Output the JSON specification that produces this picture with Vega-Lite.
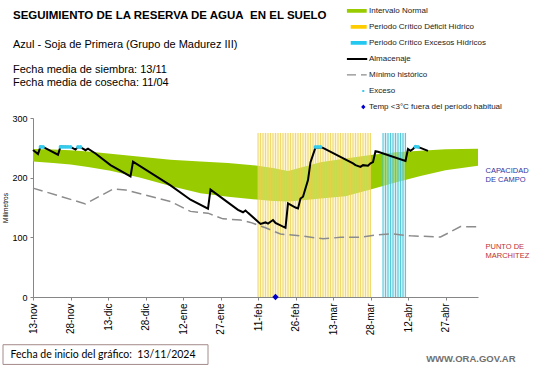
{
  "$schema": "https://vega.github.io/schema/vega-lite/v6.json",
  "autosize": {"type": "none"},
  "width": 445,
  "height": 179,
  "padding": {"left": 33, "top": 118, "right": 63, "bottom": 71},
  "background": "white",
  "title": {
    "text": "SEGUIMIENTO DE LA RESERVA DE AGUA\u00a0 EN EL SUELO",
    "subtitle": ["Azul - Soja de Primera (Grupo de Madurez III)", "\u200b", "Fecha media de siembra: 13/11", "Fecha media de cosecha: 11/04"],
    "anchor": "start",
    "frame": "group",
    "dx": -20,
    "offset": -85,
    "font": "Liberation Sans",
    "fontSize": 11.5,
    "fontWeight": "bold",
    "color": "#000000",
    "subtitleFont": "Liberation Sans",
    "subtitleFontSize": 11,
    "subtitleColor": "#000000",
    "subtitleLineHeight": 12.7,
    "subtitlePadding": 17
  },
  "datasets": {
    "band": [
      {"d": "2024-11-13", "hi": 248, "lo": 227},
      {"d": "2024-11-21", "hi": 247, "lo": 224.5},
      {"d": "2024-11-28", "hi": 246, "lo": 222},
      {"d": "2024-12-05", "hi": 244, "lo": 218},
      {"d": "2024-12-14", "hi": 240, "lo": 211.5},
      {"d": "2024-12-26", "hi": 235, "lo": 200},
      {"d": "2025-01-07", "hi": 230, "lo": 186},
      {"d": "2025-01-19", "hi": 227, "lo": 174},
      {"d": "2025-01-30", "hi": 224.5, "lo": 168},
      {"d": "2025-02-09", "hi": 221, "lo": 164},
      {"d": "2025-02-17", "hi": 216, "lo": 161},
      {"d": "2025-02-23", "hi": 211, "lo": 160},
      {"d": "2025-03-01", "hi": 218, "lo": 162},
      {"d": "2025-03-08", "hi": 226, "lo": 165},
      {"d": "2025-03-18", "hi": 232, "lo": 169},
      {"d": "2025-03-28", "hi": 238, "lo": 180},
      {"d": "2025-04-07", "hi": 242.5, "lo": 192},
      {"d": "2025-04-17", "hi": 245, "lo": 203},
      {"d": "2025-04-27", "hi": 247.5, "lo": 212.5},
      {"d": "2025-05-10", "hi": 248.5, "lo": 220}
    ],
    "alm": [
      {"d": "2024-11-13", "v": 246.5},
      {"d": "2024-11-15", "v": 239.5},
      {"d": "2024-11-16", "v": 252},
      {"d": "2024-11-17", "v": 251.5},
      {"d": "2024-11-23", "v": 238.5},
      {"d": "2024-11-24", "v": 252},
      {"d": "2024-11-28", "v": 251.5},
      {"d": "2024-11-30", "v": 247},
      {"d": "2024-12-01", "v": 251.5},
      {"d": "2024-12-02", "v": 251},
      {"d": "2024-12-04", "v": 246},
      {"d": "2024-12-05", "v": 248.5},
      {"d": "2024-12-08", "v": 240.5},
      {"d": "2024-12-14", "v": 221},
      {"d": "2024-12-22", "v": 202},
      {"d": "2024-12-23", "v": 227},
      {"d": "2025-01-07", "v": 187},
      {"d": "2025-01-15", "v": 163},
      {"d": "2025-01-22", "v": 148},
      {"d": "2025-01-23", "v": 180},
      {"d": "2025-02-03", "v": 146},
      {"d": "2025-02-05", "v": 142},
      {"d": "2025-02-06", "v": 145},
      {"d": "2025-02-07", "v": 141},
      {"d": "2025-02-12", "v": 122.5},
      {"d": "2025-02-14", "v": 125},
      {"d": "2025-02-15", "v": 123},
      {"d": "2025-02-17", "v": 129},
      {"d": "2025-02-18", "v": 124},
      {"d": "2025-02-22", "v": 116},
      {"d": "2025-02-23", "v": 157},
      {"d": "2025-02-26", "v": 150},
      {"d": "2025-02-27", "v": 148.5},
      {"d": "2025-02-28", "v": 165},
      {"d": "2025-03-01", "v": 168},
      {"d": "2025-03-03", "v": 196},
      {"d": "2025-03-04", "v": 226},
      {"d": "2025-03-06", "v": 250.5},
      {"d": "2025-03-08", "v": 251},
      {"d": "2025-03-09", "v": 250},
      {"d": "2025-03-21", "v": 224},
      {"d": "2025-03-22", "v": 221},
      {"d": "2025-03-24", "v": 218},
      {"d": "2025-03-25", "v": 221},
      {"d": "2025-03-27", "v": 220},
      {"d": "2025-03-28", "v": 224},
      {"d": "2025-03-29", "v": 226},
      {"d": "2025-03-30", "v": 244.5},
      {"d": "2025-03-31", "v": 243.5},
      {"d": "2025-04-11", "v": 228},
      {"d": "2025-04-12", "v": 248},
      {"d": "2025-04-13", "v": 245},
      {"d": "2025-04-14", "v": 248},
      {"d": "2025-04-15", "v": 252.5},
      {"d": "2025-04-17", "v": 250},
      {"d": "2025-04-20", "v": 245}
    ],
    "minimo": [
      {"d": "2024-11-13", "v": 182.5},
      {"d": "2024-11-23", "v": 170},
      {"d": "2024-12-04", "v": 156},
      {"d": "2024-12-15", "v": 181},
      {"d": "2024-12-20", "v": 179.5},
      {"d": "2025-01-07", "v": 160},
      {"d": "2025-01-15", "v": 143.5},
      {"d": "2025-01-22", "v": 140.5},
      {"d": "2025-01-28", "v": 131},
      {"d": "2025-02-04", "v": 129},
      {"d": "2025-02-08", "v": 125},
      {"d": "2025-02-14", "v": 116},
      {"d": "2025-02-20", "v": 105.5},
      {"d": "2025-02-28", "v": 102.5},
      {"d": "2025-03-09", "v": 97.5},
      {"d": "2025-03-16", "v": 100},
      {"d": "2025-03-24", "v": 100},
      {"d": "2025-03-30", "v": 104},
      {"d": "2025-04-05", "v": 106},
      {"d": "2025-04-13", "v": 102.5},
      {"d": "2025-04-25", "v": 100.5},
      {"d": "2025-04-28", "v": 107},
      {"d": "2025-05-03", "v": 118},
      {"d": "2025-05-10", "v": 117.5}
    ],
    "exceso": [
      {"d": "2024-11-16", "v": 251.5},
      {"d": "2024-11-17", "v": 251.5},
      {"d": "2024-11-24", "v": 251.5},
      {"d": "2024-11-25", "v": 251.5},
      {"d": "2024-11-26", "v": 251.5},
      {"d": "2024-11-27", "v": 251.5},
      {"d": "2024-11-28", "v": 251.5},
      {"d": "2024-12-01", "v": 251.5},
      {"d": "2024-12-02", "v": 251.5},
      {"d": "2025-03-06", "v": 251.5},
      {"d": "2025-03-07", "v": 251.5},
      {"d": "2025-03-08", "v": 251.5},
      {"d": "2025-04-15", "v": 252},
      {"d": "2025-04-16", "v": 251.5}
    ],
    "frio": [
      {"d": "2025-02-18", "v": 0}
    ],
    "crit": [
      {"d": "2025-02-11", "t": "def"}, {"d": "2025-02-12", "t": "def"}, {"d": "2025-02-13", "t": "def"}, {"d": "2025-02-14", "t": "def"},
      {"d": "2025-02-15", "t": "def"}, {"d": "2025-02-16", "t": "def"}, {"d": "2025-02-17", "t": "def"}, {"d": "2025-02-18", "t": "def"},
      {"d": "2025-02-19", "t": "def"}, {"d": "2025-02-20", "t": "def"}, {"d": "2025-02-21", "t": "def"}, {"d": "2025-02-22", "t": "def"},
      {"d": "2025-02-23", "t": "def"}, {"d": "2025-02-24", "t": "def"}, {"d": "2025-02-25", "t": "def"}, {"d": "2025-02-26", "t": "def"},
      {"d": "2025-02-27", "t": "def"}, {"d": "2025-02-28", "t": "def"}, {"d": "2025-03-01", "t": "def"}, {"d": "2025-03-02", "t": "def"},
      {"d": "2025-03-03", "t": "def"}, {"d": "2025-03-04", "t": "def"}, {"d": "2025-03-05", "t": "def"}, {"d": "2025-03-06", "t": "def"},
      {"d": "2025-03-07", "t": "def"}, {"d": "2025-03-08", "t": "def"}, {"d": "2025-03-09", "t": "def"}, {"d": "2025-03-10", "t": "def"},
      {"d": "2025-03-11", "t": "def"}, {"d": "2025-03-12", "t": "def"}, {"d": "2025-03-13", "t": "def"}, {"d": "2025-03-14", "t": "def"},
      {"d": "2025-03-15", "t": "def"}, {"d": "2025-03-16", "t": "def"}, {"d": "2025-03-17", "t": "def"}, {"d": "2025-03-18", "t": "def"},
      {"d": "2025-03-19", "t": "def"}, {"d": "2025-03-20", "t": "def"}, {"d": "2025-03-21", "t": "def"}, {"d": "2025-03-22", "t": "def"},
      {"d": "2025-03-23", "t": "def"}, {"d": "2025-03-24", "t": "def"}, {"d": "2025-03-25", "t": "def"}, {"d": "2025-03-26", "t": "def"},
      {"d": "2025-03-27", "t": "def"}, {"d": "2025-03-28", "t": "def"},
      {"d": "2025-04-02", "t": "exc"}, {"d": "2025-04-03", "t": "exc"}, {"d": "2025-04-04", "t": "exc"}, {"d": "2025-04-05", "t": "exc"},
      {"d": "2025-04-06", "t": "exc"}, {"d": "2025-04-07", "t": "exc"}, {"d": "2025-04-08", "t": "exc"}, {"d": "2025-04-09", "t": "exc"},
      {"d": "2025-04-10", "t": "exc"}, {"d": "2025-04-11", "t": "exc"}
    ]
  },
  "layer": [
    {
      "data": {"name": "band"},
      "mark": {"type": "area", "color": "#99CC00", "opacity": 1},
      "encoding": {
        "x": {
          "field": "d", "type": "temporal",
          "scale": {"type": "utc", "domain": [{"year": 2024, "month": 11, "date": 13, "utc": true}, {"year": 2025, "month": 5, "date": 10, "utc": true}], "nice": false},
          "axis": {
            "title": null,
            "values": [
              {"year": 2024, "month": 11, "date": 13, "utc": true},
              {"year": 2024, "month": 11, "date": 28, "utc": true},
              {"year": 2024, "month": 12, "date": 13, "utc": true},
              {"year": 2024, "month": 12, "date": 28, "utc": true},
              {"year": 2025, "month": 1, "date": 12, "utc": true},
              {"year": 2025, "month": 1, "date": 27, "utc": true},
              {"year": 2025, "month": 2, "date": 11, "utc": true},
              {"year": 2025, "month": 2, "date": 26, "utc": true},
              {"year": 2025, "month": 3, "date": 13, "utc": true},
              {"year": 2025, "month": 3, "date": 28, "utc": true},
              {"year": 2025, "month": 4, "date": 12, "utc": true},
              {"year": 2025, "month": 4, "date": 27, "utc": true}
            ],
            "labelExpr": "utcFormat(datum.value, '%d') + '-' + ['ene','feb','mar','abr','may','jun','jul','ago','sep','oct','nov','dic'][utcmonth(datum.value)]",
            "labelAngle": 270,
            "labelAlign": "right",
            "labelBaseline": "middle",
            "labelFontSize": 10,
            "labelPadding": 3,
            "tickSize": 3,
            "labelOverlap": false,
            "labelBound": false
          }
        },
        "y": {
          "field": "hi", "type": "quantitative",
          "scale": {"domain": [0, 300], "nice": false, "zero": true},
          "axis": {
            "title": "Milímetros",
            "values": [0, 50, 100, 150, 200, 250, 300],
            "labelFontSize": 9,
            "tickSize": 3,
            "labelPadding": 3,
            "titleFont": "Liberation Sans",
            "titleFontSize": 6.5,
            "titleFontWeight": "normal",
            "titlePadding": 3,
            "titleColor": "#000000"
          }
        },
        "y2": {"field": "lo"}
      }
    },
    {
      "data": {"name": "crit"},
      "transform": [{"filter": "datum.t == 'def'"}],
      "mark": {"type": "rect", "color": "#FFF0A8", "opacity": 0.45},
      "encoding": {
        "x": {"aggregate": "min", "field": "d", "type": "temporal"},
        "x2": {"aggregate": "max", "field": "d"},
        "y": {"datum": 0, "type": "quantitative"},
        "y2": {"datum": 275}
      }
    },
    {
      "data": {"name": "crit"},
      "transform": [{"filter": "datum.t == 'def'"}],
      "mark": {"type": "rule", "color": "#EBCF4A", "opacity": 0.75, "strokeWidth": 1.1},
      "encoding": {
        "x": {"field": "d", "type": "temporal"},
        "y": {"datum": 0, "type": "quantitative"},
        "y2": {"datum": 275}
      }
    },
    {
      "data": {"name": "crit"},
      "transform": [{"filter": "datum.t == 'exc'"}],
      "mark": {"type": "rect", "color": "#BDEBF5", "opacity": 0.5},
      "encoding": {
        "x": {"aggregate": "min", "field": "d", "type": "temporal"},
        "x2": {"aggregate": "max", "field": "d"},
        "y": {"datum": 0, "type": "quantitative"},
        "y2": {"datum": 275}
      }
    },
    {
      "data": {"name": "crit"},
      "transform": [{"filter": "datum.t == 'exc'"}],
      "mark": {"type": "rule", "color": "#3DBFD6", "opacity": 0.85, "strokeWidth": 1.1},
      "encoding": {
        "x": {"field": "d", "type": "temporal"},
        "y": {"datum": 0, "type": "quantitative"},
        "y2": {"datum": 275}
      }
    },
    {
      "mark": {"type": "rule", "color": "#A7B6CB", "strokeWidth": 2},
      "encoding": {"y": {"datum": 250, "type": "quantitative"}}
    },
    {
      "mark": {"type": "rule", "color": "#C0392B", "strokeWidth": 1},
      "encoding": {"y": {"datum": 124, "type": "quantitative"}}
    },
    {
      "data": {"name": "minimo"},
      "mark": {"type": "line", "color": "#8C8C8C", "strokeWidth": 1.5, "strokeDash": [10, 5]},
      "encoding": {
        "x": {"field": "d", "type": "temporal"},
        "y": {"field": "v", "type": "quantitative"}
      }
    },
    {
      "data": {"name": "alm"},
      "mark": {"type": "line", "color": "#000000", "strokeWidth": 2},
      "encoding": {
        "x": {"field": "d", "type": "temporal"},
        "y": {"field": "v", "type": "quantitative"}
      }
    },
    {
      "data": {"name": "exceso"},
      "mark": {"type": "point", "filled": true, "color": "#33CCEE", "opacity": 1, "size": 14, "shape": "circle"},
      "encoding": {
        "x": {"field": "d", "type": "temporal"},
        "y": {"field": "v", "type": "quantitative"}
      }
    },
    {
      "data": {"name": "frio"},
      "mark": {"type": "point", "filled": true, "color": "#0000CC", "opacity": 1, "size": 40, "shape": "diamond"},
      "encoding": {
        "x": {"field": "d", "type": "temporal"},
        "y": {"field": "v", "type": "quantitative"}
      }
    },
    {
      "data": {"values": [{"k": 1}]},
      "mark": {"type": "text", "text": ["CAPACIDAD", "DE  CAMPO"], "align": "left", "baseline": "middle", "font": "Liberation Sans", "fontSize": 7.5, "lineHeight": 9, "color": "#3333A0"},
      "encoding": {
        "x": {"datum": 1747094400000, "type": "temporal"},
        "y": {"datum": 211, "type": "quantitative"}
      }
    },
    {
      "data": {"values": [{"k": 1}]},
      "mark": {"type": "text", "text": ["PUNTO  DE", "MARCHITEZ"], "align": "left", "baseline": "middle", "font": "Liberation Sans", "fontSize": 7.5, "lineHeight": 9, "color": "#C03030"},
      "encoding": {
        "x": {"datum": 1747094400000, "type": "temporal"},
        "y": {"datum": 84, "type": "quantitative"}
      }
    },
    {
      "data": {"values": [{"k": 1}]},
      "mark": {"type": "rect", "fill": "#FFFFFF", "stroke": "#A48A8A", "strokeWidth": 1},
      "encoding": {
        "x": {"datum": 1730419200000, "type": "temporal"},
        "x2": {"datum": 1737504000000},
        "y": {"datum": -80, "type": "quantitative"},
        "y2": {"datum": -113}
      }
    },
    {
      "data": {"values": [{"k": 1}]},
      "mark": {"type": "text", "text": "Fecha de inicio del gráfico:\u00a0 13/11/2024", "align": "left", "baseline": "middle", "font": "Lato", "fontSize": 10.5, "color": "#000000"},
      "encoding": {
        "x": {"datum": 1730678400000, "type": "temporal"},
        "y": {"datum": -97, "type": "quantitative"}
      }
    },
    {
      "data": {"values": [{"k": 1}]},
      "mark": {"type": "text", "text": "WWW.ORA.GOV.AR", "align": "right", "baseline": "middle", "font": "Liberation Sans", "fontSize": 9.5, "fontWeight": "bold", "color": "#707070"},
      "encoding": {
        "x": {"datum": 1748131200000, "type": "temporal"},
        "y": {"datum": -104, "type": "quantitative"}
      }
    },
    {
      "data": {"values": []},
      "mark": {"type": "point", "filled": true},
      "encoding": {
        "color": {
          "field": "s", "type": "nominal",
          "scale": {
            "domain": ["Intervalo Normal", "Periodo Crítico Déficit Hídrico", "Periodo Crítico Excesos Hídricos", "Almacenaje", "Mínimo histórico", "Exceso", "Temp <3°C fuera del período habitual"],
            "range": ["#99CC00", "#FFCC00", "#22C8F0", "#000000", "#8C8C8C", "#33CCEE", "#0000CC"]
          },
          "legend": {"title": null}
        },
        "shape": {
          "field": "s", "type": "nominal",
          "scale": {
            "domain": ["Intervalo Normal", "Periodo Crítico Déficit Hídrico", "Periodo Crítico Excesos Hídricos", "Almacenaje", "Mínimo histórico", "Exceso", "Temp <3°C fuera del período habitual"],
            "range": [
              "M-1,-0.19H1V0.19H-1Z",
              "M-0.6,-0.19H1V0.19H-0.6Z",
              "M-0.6,-0.19H1V0.19H-0.6Z",
              "M-1,-0.1H1.05V0.1H-1Z",
              "M-1,-0.07H-0.07V0.07H-1ZM0.43,-0.07H1V0.07H0.43Z",
              "M0.56,-0.1H0.76V0.1H0.56Z",
              "M0.66,-0.24L0.88,0L0.66,0.24L0.44,0Z"
            ]
          },
          "legend": {"title": null}
        }
      }
    }
  ],
  "config": {
    "view": {"stroke": null},
    "axis": {
      "grid": false,
      "domainColor": "#868686",
      "tickColor": "#868686",
      "labelFont": "Liberation Sans",
      "labelColor": "#000000"
    },
    "legend": {
      "orient": "none",
      "legendX": 313.7,
      "legendY": -115,
      "direction": "vertical",
      "symbolSize": 400,
      "symbolStrokeWidth": 0,
      "symbolOpacity": 1,
      "clipHeight": 15.8,
      "rowPadding": 0,
      "labelFont": "Liberation Sans",
      "labelFontSize": 8,
      "labelColor": "#222222",
      "labelOffset": 2.3,
      "labelLimit": 300,
      "padding": 0
    }
  }
}
